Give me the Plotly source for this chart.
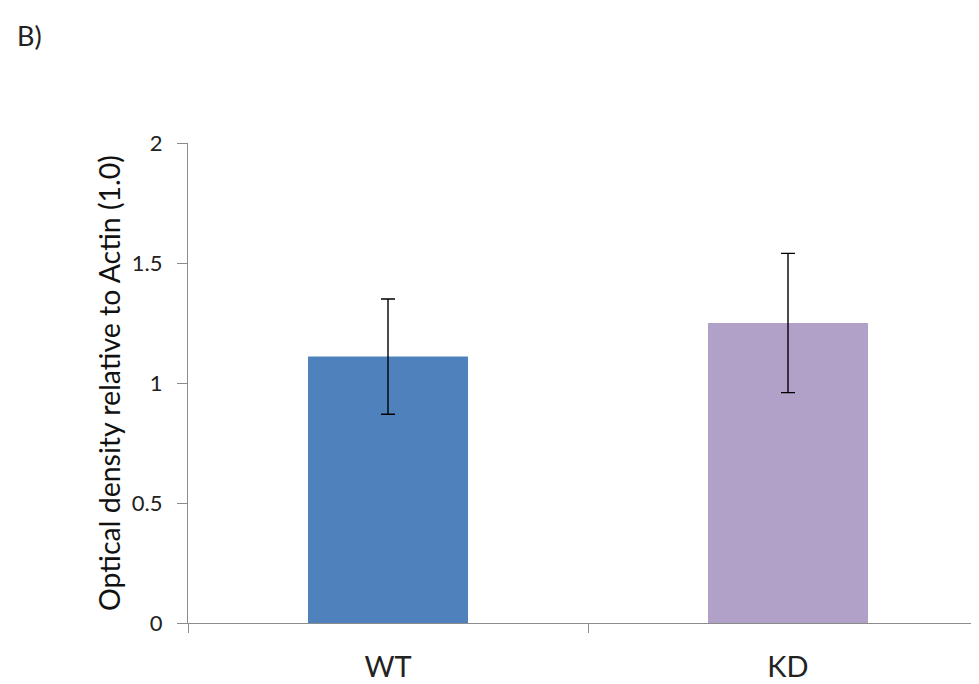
import plotly.graph_objects as go

categories = ["WT", "KD"]
values = [1.11, 1.25]
errors = [0.24, 0.29]
colors = ["#4F81BD", "#B1A0C7"]
y_ticks = [0, 0.5, 1, 1.5, 2]
y_tick_labels = ["0", "0.5", "1", "1.5", "2"]

x_pos = list(range(len(categories)))

fig = go.Figure()
fig.add_trace(go.Bar(
    x=x_pos, y=values, width=0.4,
    marker=dict(color=colors, line=dict(width=0)),
    error_y=dict(type="data", array=errors, visible=True, color="#000000",
                 thickness=1.4, width=7),
    showlegend=False,
))

font_family = "Lato, Open Sans, sans-serif"

fig.update_layout(
    width=971, height=676,
    margin=dict(l=180, r=0, t=135, b=61, pad=0),
    plot_bgcolor="white", paper_bgcolor="white",
    font=dict(family=font_family, color="#222222"),
    xaxis=dict(
        range=[-0.5, 1.4775],
        tickvals=x_pos, ticktext=categories,
        ticks="", showgrid=False, zeroline=False,
        showline=True, linecolor="#8C8C8C", linewidth=1.3,
        tickfont=dict(size=29, color="#222222"),
        ticklabelstandoff=18,
        minor=dict(tick0=-0.5, dtick=1, ticks="outside", ticklen=9,
                   tickcolor="#8C8C8C", tickwidth=1, showgrid=False),
    ),
    yaxis=dict(
        range=[0, 2],
        tickvals=y_ticks, ticktext=y_tick_labels,
        ticks="outside", ticklen=10, tickcolor="#8C8C8C", tickwidth=1,
        showgrid=False, zeroline=False,
        showline=True, linecolor="#8C8C8C", linewidth=1.3,
        tickfont=dict(size=22, color="#222222"),
        ticklabelstandoff=10,
        title=dict(text="Optical density relative to Actin (1.0)",
                   font=dict(size=28.5, color="#111111"), standoff=2),
    ),
    annotations=[dict(text="B)", xref="paper", yref="paper",
                      x=-0.2187, y=1.223, xanchor="left", yanchor="middle",
                      showarrow=False, font=dict(size=27, color="#222222"))],
)

fig.write_html("out.html")
